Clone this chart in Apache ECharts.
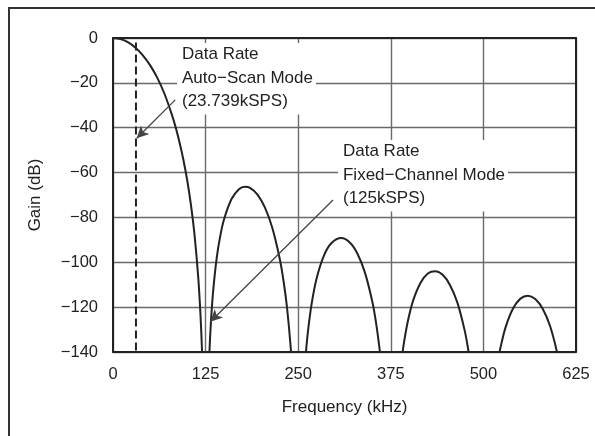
<!DOCTYPE html>
<html>
<head>
<meta charset="utf-8">
<script src="https://cdn.jsdelivr.net/npm/echarts@6/dist/echarts.min.js"></script>
<style>
html,body{margin:0;padding:0;background:#fff;}
#c{width:595px;height:436px;}
</style>
</head>
<body>
<div id="c"></div>
<script>
// ---- Data ----
const freqKHz = [0,10,20,30,40,50,60,70,80,85,90,95,100,105,110,115,118,120,122,
  128,130,132,135,140,145,150,160,170,178,185,195,205,215,225,230,235,240,243,
  255,258,260,263,268,275,285,295,308,320,330,340,350,355,360,363,
  385,390,393,398,405,415,425,435,445,455,465,475,480,484,
  515,520,523,530,540,550,560,570,580,590,600,605];
const gainDB = [0,-0.5,-1.8,-4.2,-7.6,-12.1,-17.9,-25.3,-34.7,-40.3,-46.8,-54.3,-63.1,-73.9,-87.6,-106.5,-122.8,-138.1,-161,
  -163,-141.6,-127.8,-113.5,-98.0,-87.9,-80.7,-71.8,-67.4,-66.3,-66.8,-69.8,-75.5,-84.6,-98.3,-107.9,-120.5,-138.5,-154.3,
  -170.9,-151.1,-141.9,-131.4,-118.8,-107.0,-96.8,-91.4,-89.2,-91.3,-96.2,-104.5,-117.5,-126.8,-139.1,-148.7,
  -159,-142.5,-135.4,-126.3,-117.2,-109.2,-105.0,-104.0,-105.6,-110.2,-118.1,-130.8,-139.9,-149.2,
  -154.6,-143.3,-138.1,-128.9,-120.6,-116.2,-114.9,-116.4,-120.7,-128.4,-140.9,-149.9];
const xTicks = [0,125,250,375,500,625];
const yTicks = [0,-20,-40,-60,-80,-100,-120,-140];
const autoScanMarkerKHz = 31;           // dashed line position
const annotationTexts = ['Data Rate\nAuto\u2212Scan Mode\n(23.739kSPS)', 'Data Rate\nFixed\u2212Channel Mode\n(125kSPS)'];
const annotationAnchors = [[86.4,-2.2],[303.7,-45.5]];
const arrowFrom = [[84,-27.6],[297,-72.2]];
const arrowTo = [[32,-44.7],[131.5,-126.5]];

// ---- Chart ----
const FONT = 'Liberation Sans, Arial, sans-serif';
const chart = echarts.init(document.getElementById('c'), null, {renderer:'canvas'});
const curve = freqKHz.map((f,i)=>[f,gainDB[i]]);
const minus = v => String(v).replace('-', '\u2212');

chart.setOption({
  animation:false,
  backgroundColor:'#fff',
  grid:{left:113,right:19,top:38,bottom:84,containLabel:false},
  xAxis:[{
    type:'value', min:xTicks[0], max:xTicks[xTicks.length-1], interval:xTicks[1]-xTicks[0],
    name:'Frequency (kHz)', nameLocation:'middle', nameGap:47,
    nameTextStyle:{fontFamily:FONT,fontSize:17,color:'#222'},
    axisLine:{show:true,onZero:false,lineStyle:{color:'#222',width:2}},
    axisTick:{show:false},
    axisLabel:{fontFamily:FONT,fontSize:16.5,color:'#222',margin:14},
    splitLine:{show:true,lineStyle:{color:'#6a6a6a',width:1.4}}
  },{
    type:'value', position:'top', min:xTicks[0], max:xTicks[xTicks.length-1],
    axisLine:{show:true,onZero:false,lineStyle:{color:'#222',width:2}},
    axisTick:{show:false}, axisLabel:{show:false}, splitLine:{show:false}
  }],
  yAxis:[{
    type:'value', min:yTicks[yTicks.length-1], max:yTicks[0], interval:yTicks[0]-yTicks[1],
    name:'Gain (dB)', nameLocation:'middle', nameGap:69, nameRotate:90,
    nameTextStyle:{fontFamily:FONT,fontSize:17,color:'#222'},
    axisLine:{show:true,onZero:false,lineStyle:{color:'#222',width:2}},
    axisTick:{show:false},
    axisLabel:{fontFamily:FONT,fontSize:16.5,color:'#222',margin:15,formatter:minus},
    splitLine:{show:true,lineStyle:{color:'#6a6a6a',width:1.4}}
  },{
    type:'value', position:'right', min:yTicks[yTicks.length-1], max:yTicks[0],
    axisLine:{show:true,onZero:false,lineStyle:{color:'#222',width:2}},
    axisTick:{show:false}, axisLabel:{show:false}, splitLine:{show:false}
  }],
  series:[{
    type:'line', data:curve, showSymbol:false, smooth:0.3, clip:true,
    lineStyle:{color:'#222',width:2}, z:3, silent:true
  },{
    type:'line', data:[[autoScanMarkerKHz,-2],[autoScanMarkerKHz,yTicks[yTicks.length-1]]],
    showSymbol:false, clip:true, silent:true,
    lineStyle:{color:'#222',width:2,type:[8,4]}, z:3,
    markLine:{
      silent:true, symbol:['none','arrow'], symbolSize:[9,12], animation:false,
      label:{show:false},
      lineStyle:{color:'#444',width:1.3,type:'solid'},
      emphasis:{disabled:true},
      data: arrowFrom.map((p,i)=>[{coord:p},{coord:arrowTo[i]}])
    }
  }]
});

const graphics = [{
  type:'rect', z:100, silent:true,
  shape:{x:9,y:8,width:800,height:800},
  style:{fill:null,stroke:'#333',lineWidth:2}
}];
annotationTexts.forEach((t,i)=>{
  const p = chart.convertToPixel({gridIndex:0}, annotationAnchors[i]);
  graphics.push({
    type:'text', z:50, silent:true, x:p[0], y:p[1],
    style:{text:t, fontFamily:FONT, fontSize:17, lineHeight:23.5, fill:'#222',
      backgroundColor:'#fff', padding:[0,3,1,5]}
  });
});
chart.setOption({graphic:graphics});
</script>
</body>
</html>
